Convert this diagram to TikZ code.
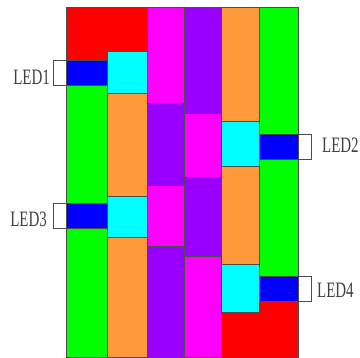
\documentclass[tikz,border=0pt]{standalone}
\usepackage{fontspec}
\setmainfont{Liberation Serif}
\usepackage{tikz}

\definecolor{ledred}{HTML}{FF0000}
\definecolor{ledblue}{HTML}{0000FF}
\definecolor{ledgreen}{HTML}{00FF00}
\definecolor{ledcyan}{HTML}{00FFFF}
\definecolor{ledorange}{HTML}{FF9A3C}
\definecolor{ledmagenta}{HTML}{FF00FF}
\definecolor{ledpurple}{HTML}{9900FF}

\tikzset{
    cell/.style={draw=black!70, line width=0.7pt},
    ledbox/.style={draw=black!70, line width=0.8pt, minimum width=13pt, minimum height=25pt, inner sep=0pt},
    ledlabel/.style={inner sep=0pt, text=black!75, font=\fontsize{22}{22}\selectfont, xscale=0.68}
}

\begin{document}
\begin{tikzpicture}[x=1pt, y=-1pt]
    \useasboundingbox (0,0) rectangle (360,358);

    % Columns of cells
    \foreach \ya/\yb/\c in {7/60/ledred, 60/85/ledblue, 85/203/ledgreen, 203/228/ledblue, 228/357/ledgreen}
        \draw[cell, fill=\c] (66,\ya) rectangle (107,\yb);
    \foreach \ya/\yb/\c in {7/51/ledred, 51/93/ledcyan, 93/196/ledorange, 196/237/ledcyan, 237/357/ledorange}
        \draw[cell, fill=\c] (107,\ya) rectangle (147,\yb);
    \foreach \ya/\yb/\c in {7/103/ledmagenta, 103/185/ledpurple, 185/246/ledmagenta, 246/357/ledpurple}
        \draw[cell, fill=\c] (147,\ya) rectangle (184,\yb);
    \foreach \ya/\yb/\c in {7/113/ledpurple, 113/177/ledmagenta, 177/256/ledpurple, 256/357/ledmagenta}
        \draw[cell, fill=\c] (184,\ya) rectangle (221,\yb);
    \foreach \ya/\yb/\c in {7/121/ledorange, 121/166/ledcyan, 166/264/ledorange, 264/312/ledcyan, 312/357/ledred}
        \draw[cell, fill=\c] (221,\ya) rectangle (259,\yb);
    \foreach \ya/\yb/\c in {7/134/ledgreen, 134/159/ledblue, 159/276/ledgreen, 276/301/ledblue, 301/357/ledred}
        \draw[cell, fill=\c] (259,\ya) rectangle (298,\yb);

    % LED markers
    \node[ledbox] (box1) at (59.5,72.5) {};
    \node[ledbox] (box2) at (304.5,146.5) {};
    \node[ledbox] (box3) at (59.5,215.5) {};
    \node[ledbox] (box4) at (304.5,288.5) {};

    \node[ledlabel, anchor=east] (led1) at (50,77) {LED1};
    \node[ledlabel, anchor=west] (led2) at (322,145) {LED2};
    \node[ledlabel, anchor=east] (led3) at (47,219) {LED3};
    \node[ledlabel, anchor=west] (led4) at (317,290) {LED4};
\end{tikzpicture}
\end{document}
